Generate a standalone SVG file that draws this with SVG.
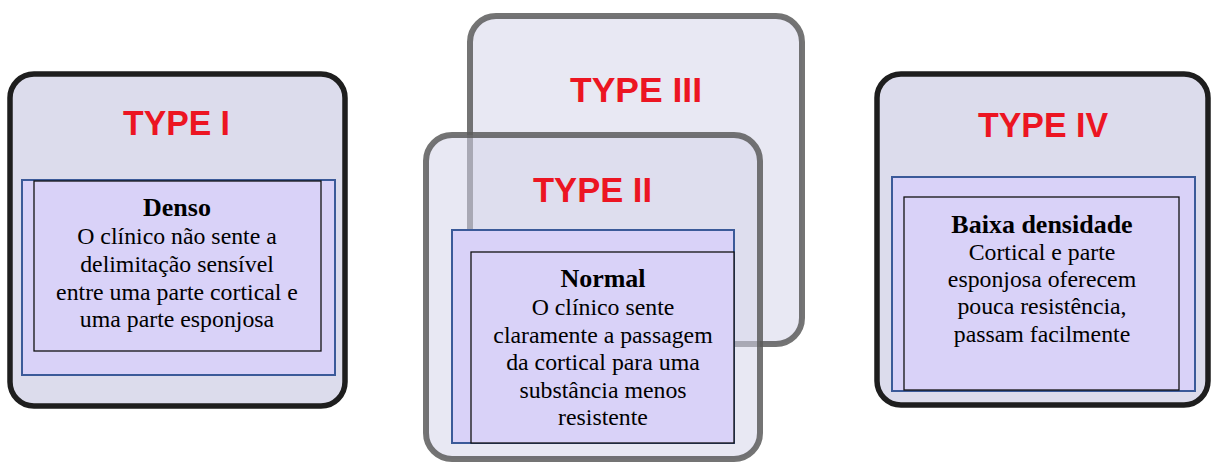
<svg xmlns="http://www.w3.org/2000/svg" width="1213" height="464" viewBox="0 0 1213 464">
  <style>
    .card-dark { fill: #dcdcec; stroke: #1e1e1e; stroke-width: 5.5; }
    .card-grey { stroke: #5c5c5c; stroke-width: 6; stroke-opacity: 0.85; }
    .panel { fill: #d9d2f8; stroke: #3b5a99; stroke-width: 2; }
    .inner { fill: #d9d2f8; stroke: #111; stroke-width: 1.3; }
    .type { font-family: "Liberation Sans", Arial, sans-serif; font-weight: bold; font-size: 35px; fill: #ec1522; }
    .head { font-family: "Liberation Serif", "Times New Roman", serif; font-weight: bold; font-size: 26px; fill: #000; text-anchor: middle; }
    .body { font-family: "Liberation Serif", "Times New Roman", serif; font-size: 23.8px; fill: #000; text-anchor: middle; }
  </style>
  <rect width="1213" height="464" fill="#ffffff"/>

  <!-- Type I -->
  <g id="type1">
    <rect class="card-dark" x="10" y="74" width="335" height="332" rx="24"/>
    <text class="type" x="123" y="135" textLength="107" lengthAdjust="spacingAndGlyphs">TYPE I</text>
    <rect class="panel" x="22" y="180" width="313" height="195"/>
    <rect class="inner" x="34" y="181" width="287" height="170"/>
    <text class="head" x="177" y="216">Denso</text>
    <text class="body" x="177" y="244">O clínico não sente a</text>
    <text class="body" x="177" y="272">delimitação sensível</text>
    <text class="body" x="177" y="300">entre uma parte cortical e</text>
    <text class="body" x="177" y="327">uma parte esponjosa</text>
  </g>

  <!-- Type III (behind Type II) -->
  <g id="type3">
    <rect class="card-grey" x="470" y="16" width="332" height="328" rx="26" fill="#e8e8f3"/>
    <text class="type" x="570" y="102" textLength="132" lengthAdjust="spacingAndGlyphs">TYPE III</text>
  </g>

  <!-- Type II -->
  <g id="type2">
    <rect class="card-grey" x="426" y="135" width="334" height="324" rx="26" fill="#d6d6ea" fill-opacity="0.55"/>
    <text class="type" x="533" y="202" textLength="119" lengthAdjust="spacingAndGlyphs">TYPE II</text>
    <rect class="panel" x="452" y="230" width="282" height="213"/>
    <rect class="inner" x="471" y="252" width="263" height="191"/>
    <text class="head" x="603" y="287">Normal</text>
    <text class="body" x="603" y="315">O clínico sente</text>
    <text class="body" x="603" y="343">claramente a passagem</text>
    <text class="body" x="603" y="370">da cortical para uma</text>
    <text class="body" x="603" y="398">substância menos</text>
    <text class="body" x="603" y="425">resistente</text>
  </g>

  <!-- Type IV -->
  <g id="type4">
    <rect class="card-dark" x="877" y="74" width="331" height="331" rx="24"/>
    <text class="type" x="978" y="137" textLength="130" lengthAdjust="spacingAndGlyphs">TYPE IV</text>
    <rect class="panel" x="892" y="177" width="303" height="214"/>
    <rect class="inner" x="904" y="197" width="275" height="193"/>
    <text class="head" x="1042" y="233">Baixa densidade</text>
    <text class="body" x="1042" y="260">Cortical e parte</text>
    <text class="body" x="1042" y="287">esponjosa oferecem</text>
    <text class="body" x="1042" y="314">pouca resistência,</text>
    <text class="body" x="1042" y="342">passam facilmente</text>
  </g>

  <g id="connectors"/>
</svg>
